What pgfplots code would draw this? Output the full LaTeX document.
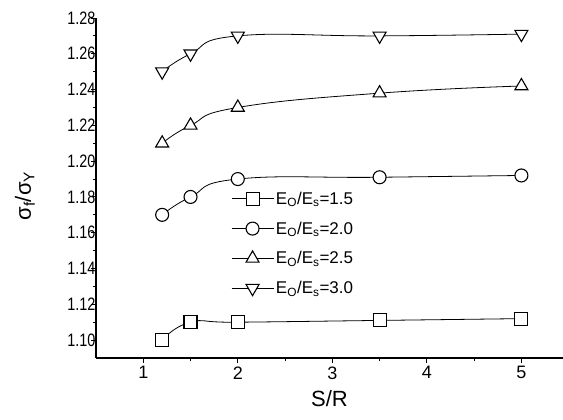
\documentclass[border=0pt]{standalone}
\usepackage{fontspec}
\setmainfont{Liberation Sans}
\usepackage{graphicx}
\usepackage{pgfplots}
\pgfplotsset{compat=1.18}
\newcommand{\nt}[1]{\scalebox{0.8}[1]{#1}}
\begin{document}
\begin{tikzpicture}
\useasboundingbox (-96bp,-62bp) rectangle (467bp,358bp);
\begin{axis}[
  at={(0,0)}, anchor=south west,
  scale only axis, width=467bp, height=340bp,
  xmin=0.5, xmax=5.44, ymin=1.09, ymax=1.28,
  axis x line=bottom, axis y line=left,
  axis line style={-, line width=1.2pt},
  xtick={1,2,3,4,5}, xticklabels={1,2,3,4,5},
  minor xtick={1.5,2.5,3.5,4.5},
  ytick={1.10,1.12,1.14,1.16,1.18,1.20,1.22,1.24,1.26,1.28},
  yticklabels={\nt{1.10},\nt{1.12},\nt{1.14},\nt{1.16},\nt{1.18},\nt{1.20},\nt{1.22},\nt{1.24},\nt{1.26},\nt{1.28}},
  minor ytick={1.11,1.13,1.15,1.17,1.19,1.21,1.23,1.25,1.27},
  tick align=outside,
  major tick length=5bp, minor tick length=3bp,
  tick style={line width=0.9pt, black},
  ticklabel style={font=\fontsize{18bp}{20bp}\selectfont},
  yticklabel style={xshift=8bp},
  xlabel={S/R}, ylabel={σ\textsubscript{f}/σ\textsubscript{Y}},
  label style={font=\fontsize{22bp}{25bp}\selectfont},
  xlabel style={at={(axis description cs:0.5,0)}, anchor=center, yshift=-41bp},
  ylabel style={at={(axis description cs:0,0.5)}, anchor=center, yshift=71bp, xshift=-8bp},
  legend style={at={(axis description cs:0.289,0.495)}, anchor=north west,
    draw=none, fill=none, font=\fontsize{17bp}{19bp}\selectfont,
    row sep=12bp, inner xsep=0pt, inner ysep=0pt},
  legend cell align=left,
  legend image code/.code={\draw[mark repeat=2,mark phase=2]
    plot coordinates {(0bp,0bp)(21bp,0bp)(42bp,0bp)};},
  every axis plot/.append style={black, line width=0.8pt, smooth, tension=0.8},
]
\addplot[mark=square*, mark size=6.5bp, mark options={fill=white, line width=1.1pt, solid}] coordinates {
  (1.2,1.100) (1.5,1.110) (2,1.110) (3.5,1.111) (5,1.112)};
\addlegendentry{E\textsubscript{O}/E\textsubscript{s}=1.5}
\addplot[mark=*, mark size=6.5bp, mark options={fill=white, line width=1.1pt, solid}] coordinates {
  (1.2,1.170) (1.5,1.180) (2,1.190) (3.5,1.191) (5,1.192)};
\addlegendentry{E\textsubscript{O}/E\textsubscript{s}=2.0}
\addplot[mark=triangle*, mark size=7.5bp, mark options={fill=white, line width=1.1pt, solid}] coordinates {
  (1.2,1.210) (1.5,1.220) (2,1.230) (3.5,1.238) (5,1.242)};
\addlegendentry{E\textsubscript{O}/E\textsubscript{s}=2.5}
\addplot[mark=triangle*, mark size=7.5bp, mark options={rotate=180, fill=white, line width=1.1pt, solid}] coordinates {
  (1.2,1.250) (1.5,1.260) (2,1.270) (3.5,1.270) (5,1.271)};
\addlegendentry{E\textsubscript{O}/E\textsubscript{s}=3.0}
\end{axis}
\end{tikzpicture}
\end{document}
